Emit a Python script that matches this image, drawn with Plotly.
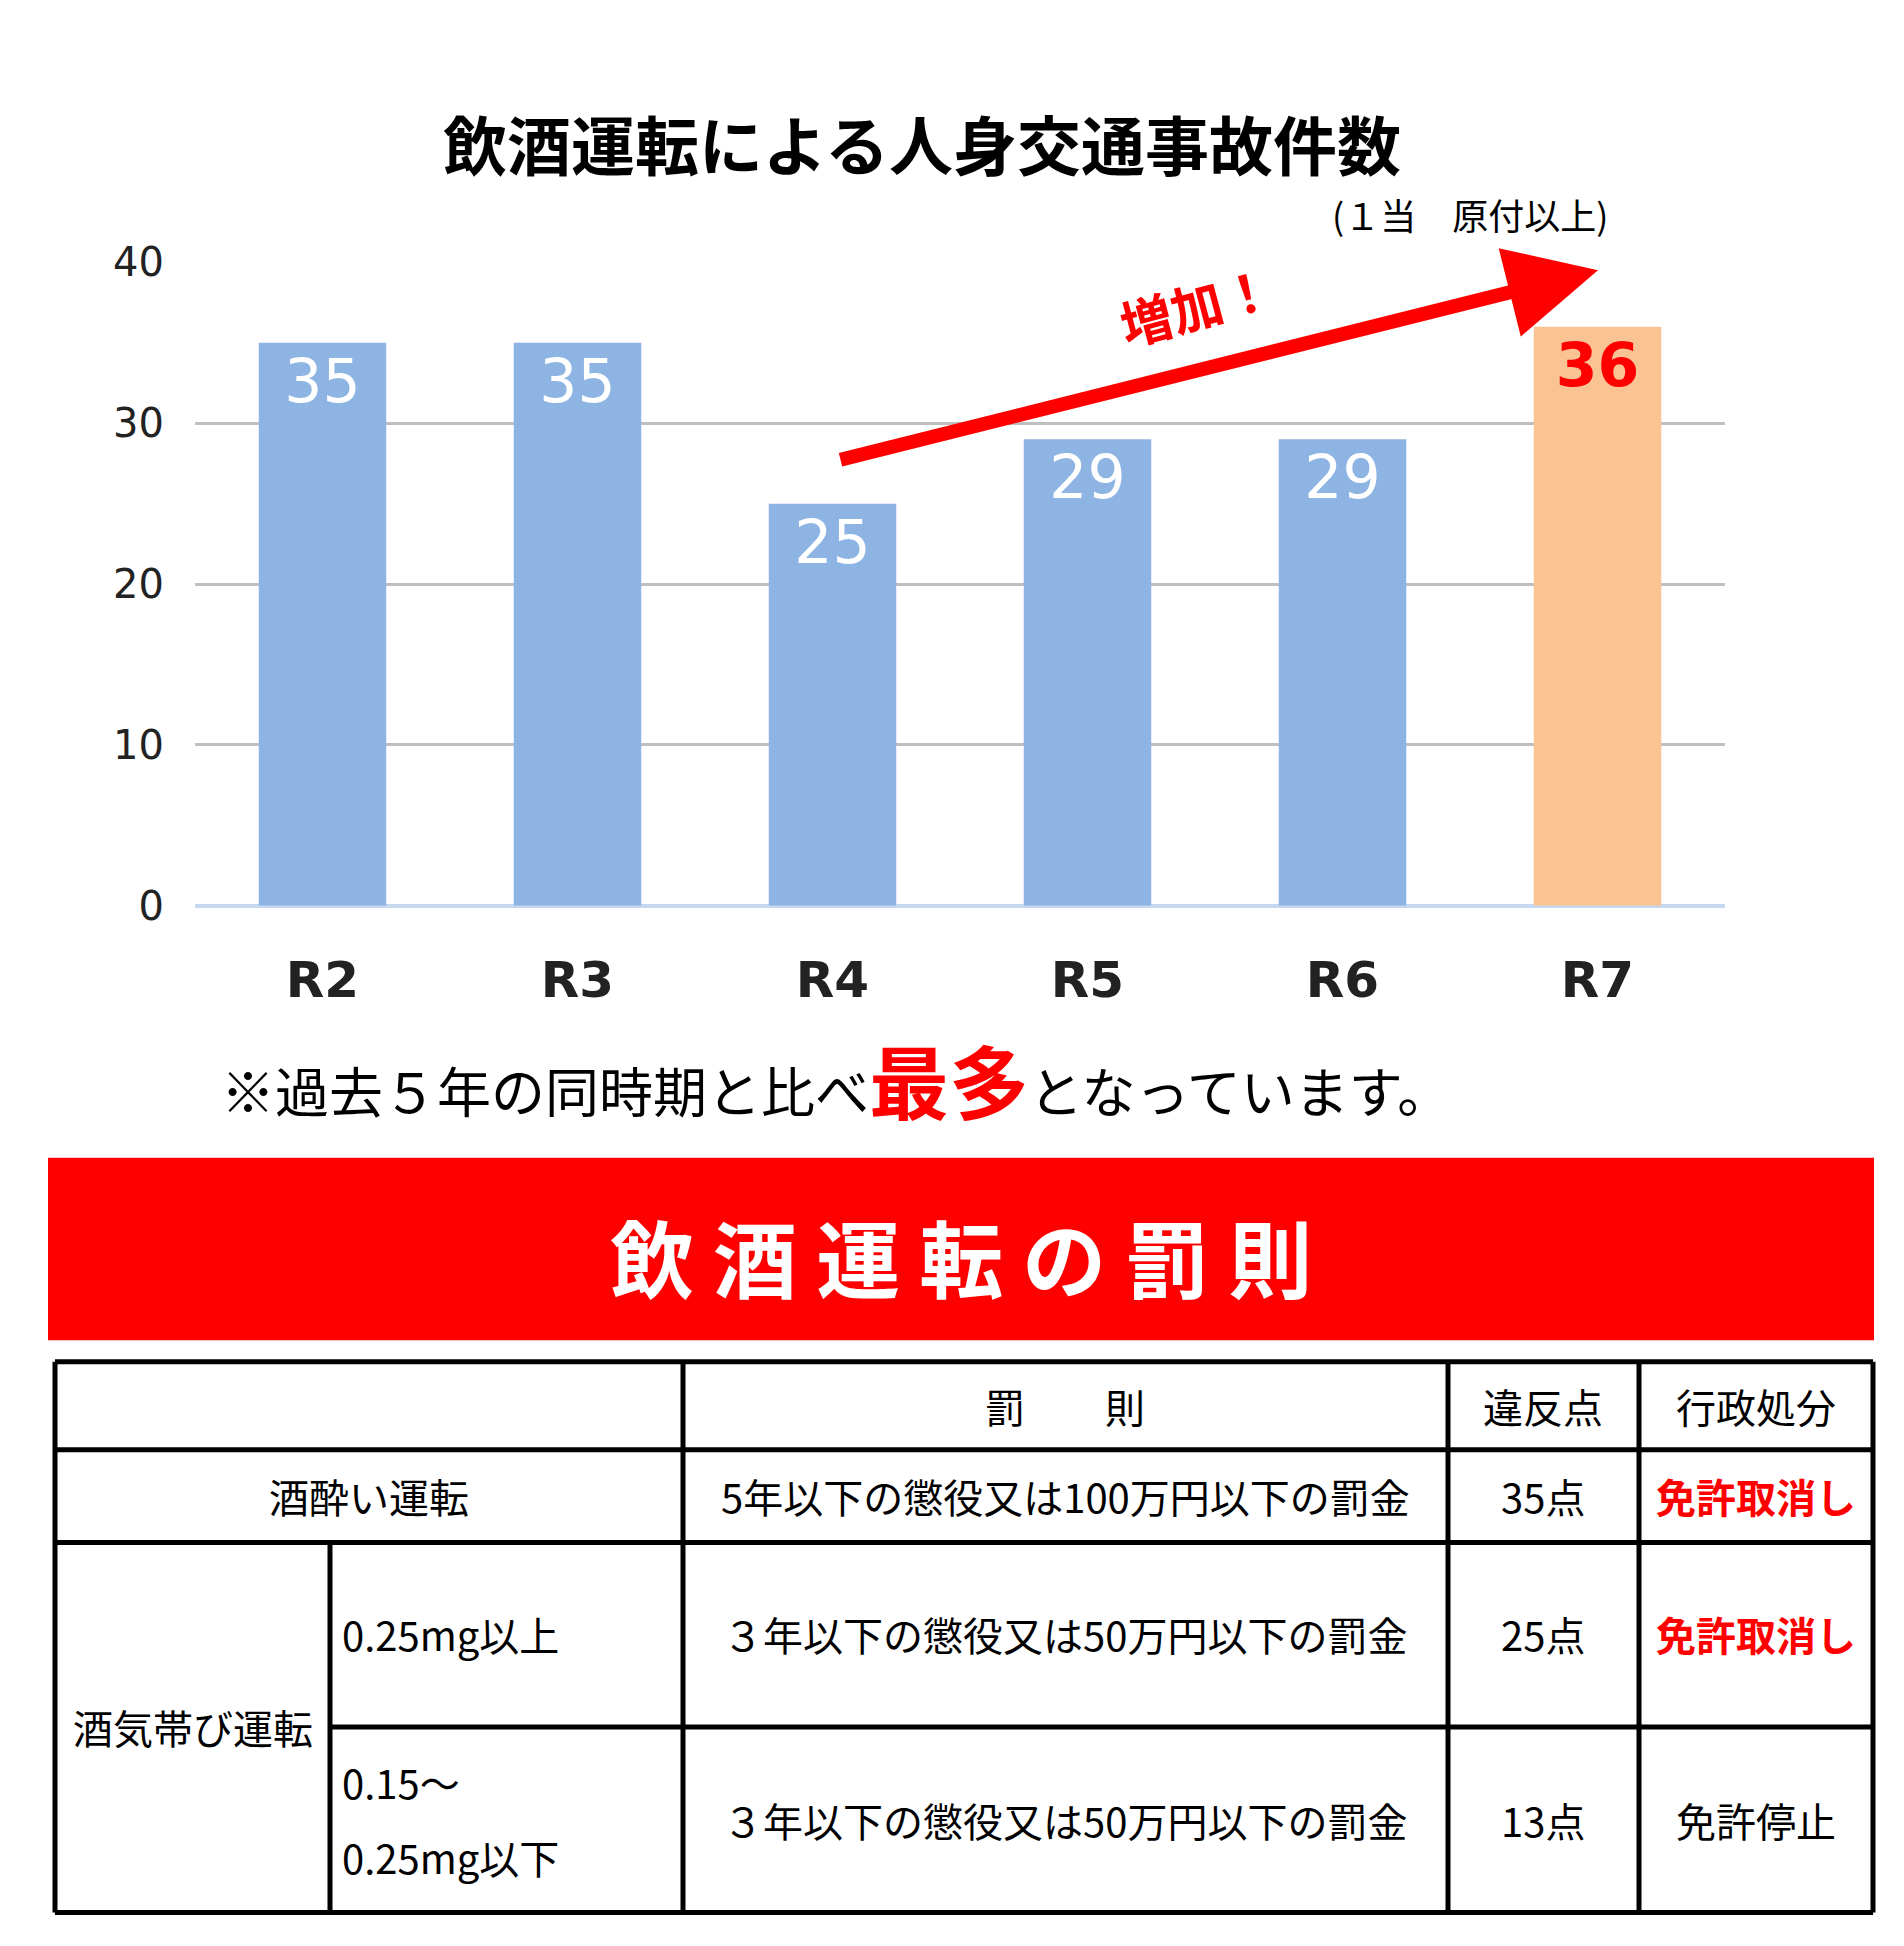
import plotly.graph_objects as go

categories = ["R2", "R3", "R4", "R5", "R6", "R7"]
values = [35, 35, 25, 29, 29, 36]
bar_colors = ["#8eb4e3"] * 5 + ["#f9c393"]
label_colors = ["white"] * 5 + ["#ff0000"]
y_ticks = [0, 10, 20, 30, 40]

title = "飲酒運転による人身交通事故件数"
subtitle = "(１当　原付以上)"
banner = "飲 酒 運 転 の 罰 則"
header = ["", "罰　　則", "違反点", "行政処分"]
W, H = 1904, 1946
JP = "Noto Sans CJK JP"

def px(x): return x / W
def py(y): return 1 - y / H

fig = go.Figure(go.Bar(
    x=categories, y=values, marker=dict(color=bar_colors, line=dict(width=0)),
    textposition="inside", insidetextanchor="end", textangle=0,
    textfont=dict(size=60, color=label_colors, family="DejaVu Sans"),
    width=0.5,
))
fig.update_traces(texttemplate=[f"<b>{v}</b>" if i == 5 else f"{v}" for i, v in enumerate(values)])

fig.update_layout(
    width=W, height=H, margin=dict(l=0, r=0, t=0, b=0),
    plot_bgcolor="white", paper_bgcolor="white", showlegend=False,
    xaxis=dict(domain=[px(187), px(1717)], tickfont=dict(size=50, family="DejaVu Sans", color="#222"),
               tickprefix="<b>", ticksuffix="</b>", ticklabelstandoff=40, showline=False),
    yaxis=dict(domain=[py(896), py(237)], range=[0, 40], tickvals=y_ticks,
               tickfont=dict(size=40, family="DejaVu Sans", color="#222"),
               gridcolor="#bfbfbf", gridwidth=3, zeroline=True, zerolinecolor="#c6d9f0",
               zerolinewidth=4, ticklabelstandoff=30),
)

ann = []
shapes = []
def text(x, y, t, size, color="black", bold=False, xanchor="center", angle=0):
    ann.append(dict(x=px(x), y=py(y), xref="paper", yref="paper", text=f"<b>{t}</b>" if bold else t,
                    showarrow=False, xanchor=xanchor, yanchor="middle", textangle=angle,
                    font=dict(size=size, color=color, family=JP)))

text(914, 114, title, 64, bold=True)
text(1462, 187, subtitle, 36)
text(1188, 280, "増加！", 52, color="#ff0000", bold=True, angle=-15)
ann.append(dict(x=px(1590), y=py(245), ax=831 - 1590, ay=435 - 245, xref="paper", yref="paper",
                axref="pixel", ayref="pixel", showarrow=True, arrowhead=2, arrowsize=1.3,
                arrowwidth=14, arrowcolor="#ff0000", text=""))
text(211, 1072, "※過去５年の同時期と比べ<span style='color:#ff0000;font-size:80px'><b>最多</b></span>となっています。",
     54, xanchor="left")

shapes.append(dict(type="rect", xref="paper", yref="paper", x0=px(40), x1=px(1866), y0=py(1341), y1=py(1154),
                   fillcolor="#ff0000", line=dict(width=0)))
text(953, 1254, banner, 84, color="white", bold=True)

def line(x0, y0, x1, y1):
    shapes.append(dict(type="line", xref="paper", yref="paper", x0=px(x0), x1=px(x1), y0=py(y0), y1=py(y1),
                       line=dict(color="black", width=5)))
xs = [47, 675, 1440, 1631, 1865]
ys = [1363, 1453, 1548, 1737, 1927]
for y in ys:
    if y == 1737:
        line(322, y, 1865, y)
    else:
        line(47, y, 1865, y)
for x in xs:
    line(x, 1363, x, 1927)
line(322, 1548, 322, 1927)

ts = 40
for x, t in zip([361, 1057, 1535, 1748], header):
    text(x, 1408, t, ts)
text(361, 1500, "酒酔い運転", ts)
text(1057, 1500, "5年以下の懲役又は100万円以下の罰金", ts)
text(1535, 1500, "35点", ts)
text(1748, 1500, "免許取消し", ts, color="#ff0000", bold=True)
text(185, 1737, "酒気帯び運転", ts)
text(332, 1642, "0.25mg以上", ts, xanchor="left")
text(1057, 1642, "３年以下の懲役又は50万円以下の罰金", ts)
text(1535, 1642, "25点", ts)
text(1748, 1642, "免許取消し", ts, color="#ff0000", bold=True)
text(332, 1793, "0.15～", ts, xanchor="left")
text(332, 1870, "0.25mg以下", ts, xanchor="left")
text(1057, 1832, "３年以下の懲役又は50万円以下の罰金", ts)
text(1535, 1832, "13点", ts)
text(1748, 1832, "免許停止", ts)

fig.update_layout(annotations=ann, shapes=shapes)
fig.write_html("out.html")
